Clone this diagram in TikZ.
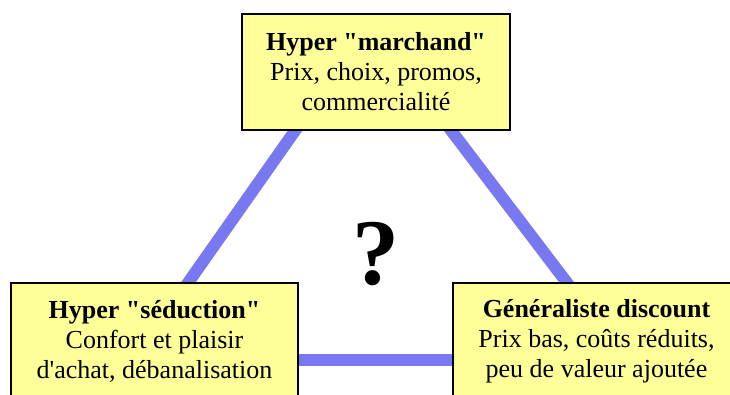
\documentclass[tikz,border=0pt]{standalone}
\usepackage{fontspec}
\setmainfont{Liberation Serif}[Ligatures=TeXOff]
\usetikzlibrary{backgrounds}
\definecolor{boxyellow}{RGB}{255,255,153}
\definecolor{linkblue}{RGB}{120,120,240}
\tikzset{type box/.style={rectangle,draw=black,line width=2pt,fill=boxyellow,align=center,
                          font=\fontsize{26}{30}\selectfont,minimum height=116pt,inner sep=0pt},
         link/.style={draw=linkblue,line width=12pt,shorten <=-6pt,shorten >=-6pt}
}
\begin{document}
\begin{tikzpicture}[x=1pt,y=1pt]
\useasboundingbox (0,0) rectangle (730,394);
\clip (0,0) rectangle (730,394);
% the three types of store
\node[type box,minimum width=268pt] (march) at (376,322) {\textbf{Hyper "marchand"}\\Prix, choix, promos,\\commercialité};
\node[type box,minimum width=287pt] (sed) at (154.5,53) {\textbf{Hyper "séduction"}\\Confort et plaisir\\d'achat, débanalisation};
\node[type box,minimum width=287pt] (disc) at (596.5,53) {\textbf{Généraliste discount}\\Prix bas, coûts réduits,\\peu de valeur ajoutée};
\node[font=\fontsize{94}{94}\selectfont\bfseries] (q) at (376,140) {?};
% links
\begin{scope}[on background layer]
\draw[link] (sed.60.7) -- (march.216.3);
\draw[link] (march.322.7) -- (disc.117);
\draw[link] ([yshift=-19pt]sed.east) -- ([yshift=-19pt]disc.west);
\end{scope}
\end{tikzpicture}
\end{document}
